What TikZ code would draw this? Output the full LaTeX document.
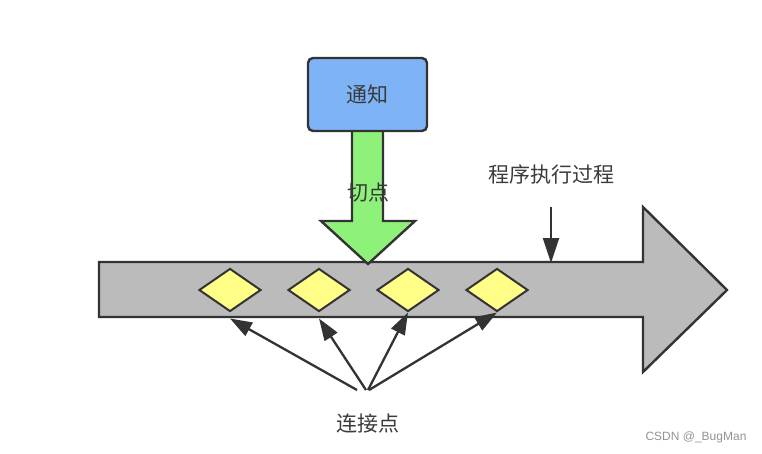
\documentclass[tikz,border=0pt]{standalone}
\usepackage{fontspec}
\newfontfamily\cjk{Noto Sans CJK SC}
\usetikzlibrary{arrows.meta,shapes.geometric}
\definecolor{edge}{HTML}{333333}
\definecolor{shaftgray}{HTML}{BBBBBB}
\definecolor{dia}{HTML}{FFFF88}
\definecolor{bluebox}{HTML}{7EB4F6}
\definecolor{greenarr}{HTML}{8EF27A}
\definecolor{txt}{HTML}{3A3A3A}
\tikzset{
  shape line/.style={draw=edge, line width=2.4pt, line join=miter},
  joinpt/.style={diamond, draw=edge, fill=dia, line width=2pt, minimum width=62pt, minimum height=43pt, inner sep=0pt, aspect=1.44},
  lbl/.style={font=\cjk\fontsize{21}{24}\selectfont, text=txt, inner sep=0pt},
  pointer/.style={draw=edge, line width=2.3pt, -{Triangle[length=22pt,width=15pt]}},
  flowpointer/.style={draw=edge, line width=2.3pt, -{Triangle[length=25pt,width=16pt]}},
}
\begin{document}
\begin{tikzpicture}[x=1pt,y=-1pt]
\useasboundingbox (0,0) rectangle (762,453);
% big gray arrow (program flow)
\draw[shape line, fill=shaftgray] (99,262) -- (643,262) -- (643,207) -- (727,290) -- (643,372) -- (643,317) -- (99,317) -- cycle;
% green arrow (pointcut)
\draw[shape line, fill=greenarr] (352,128) -- (383,128) -- (383,221) -- (415,221) -- (368,264) -- (321,221) -- (352,221) -- cycle;
% blue box
\node[draw=edge, line width=2.4pt, fill=bluebox, rounded corners=5pt, minimum width=119pt, minimum height=73pt, inner sep=0pt, font=\cjk\fontsize{21}{24}\selectfont, text=txt] (advice) at (367.5,94.5) {通知};
\node[lbl] (cut) at (368,193) {切点};
% diamonds
\node[joinpt] (d1) at (230,290) {};
\node[joinpt] (d2) at (319,290) {};
\node[joinpt] (d3) at (408,290) {};
\node[joinpt] (d4) at (497,290) {};
% labels
\node[lbl] (flow) at (551,174) {程序执行过程};
\coordinate (flowstart) at (551,207);
\coordinate (flowtip) at (551,263);
\draw[flowpointer] (flowstart) -- (flowtip);
\node[lbl] (jp) at (368,424) {连接点};
\coordinate (src1) at (357,390);
\coordinate (src2) at (366,390);
\coordinate (src3) at (368,390);
\coordinate (src4) at (369,390);
\coordinate (t1) at ([yshift=-6pt]d1.south);
\coordinate (t2) at ([yshift=-6pt]d2.south);
\coordinate (t3) at (d3.south);
\coordinate (t4) at (d4.south);
\draw[pointer] (src1) -- (t1);
\draw[pointer] (src2) -- (t2);
\draw[pointer] (src3) -- (t3);
\draw[pointer] (src4) -- (t4);
% watermark
\node[font=\fontspec{Liberation Sans}\fontsize{12}{14}\selectfont, text=gray!85, inner sep=0pt] (wm) at (696,437) {CSDN @\_BugMan};
\end{tikzpicture}
\end{document}
